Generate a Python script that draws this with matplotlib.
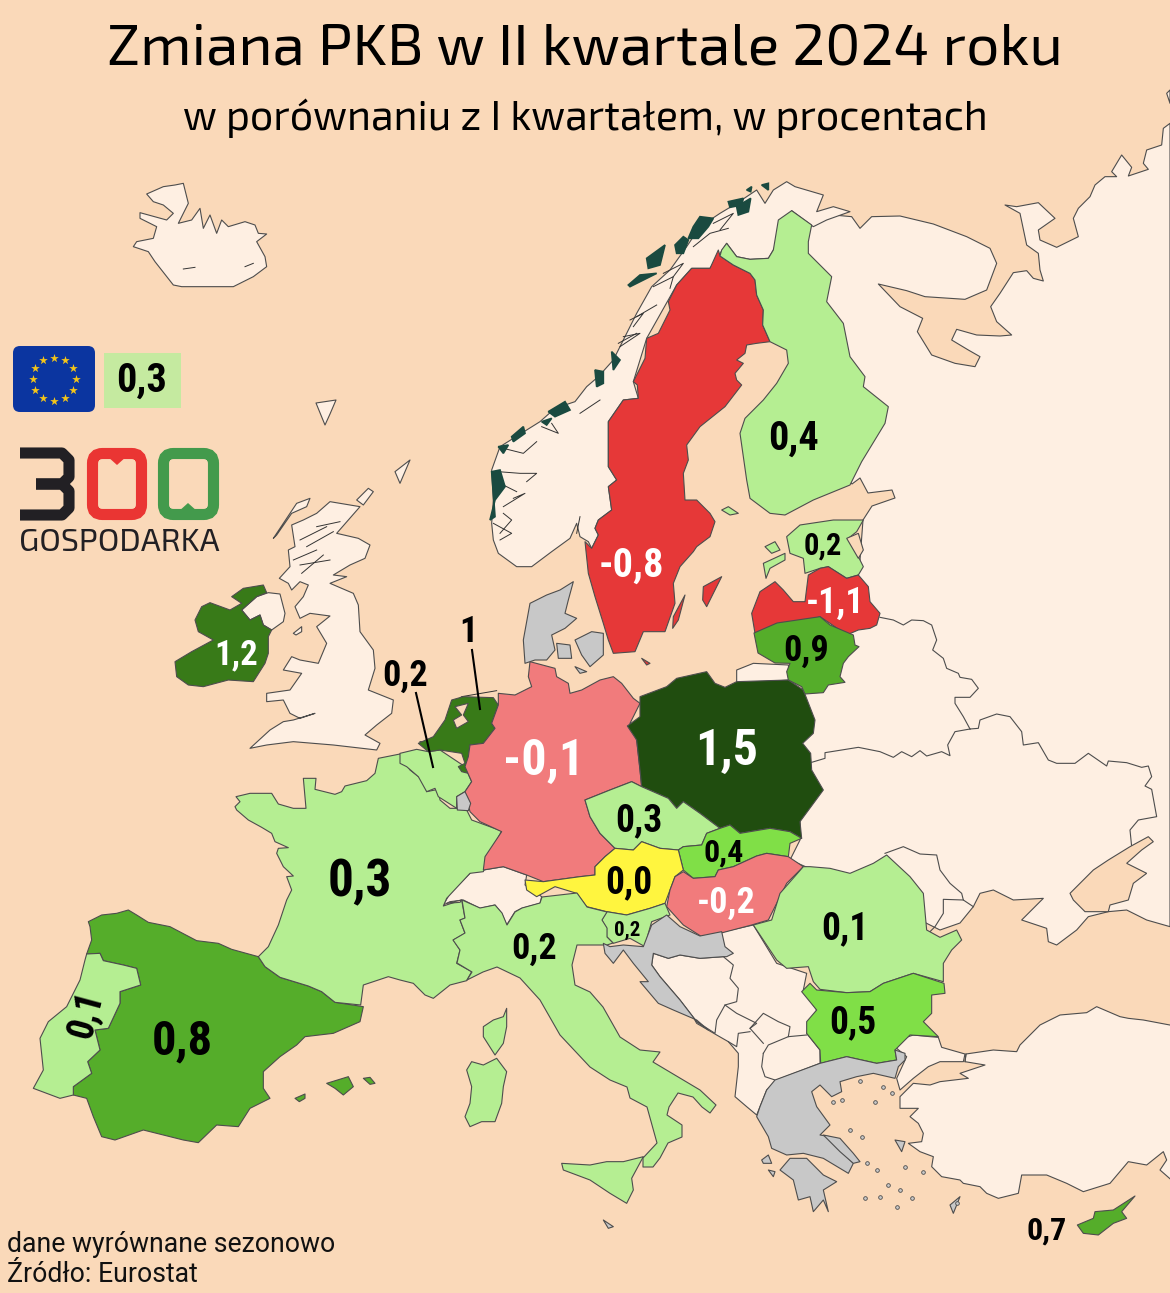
import numpy as np
import matplotlib
matplotlib.use("Agg")
import matplotlib.pyplot as plt
from matplotlib.patches import Polygon, FancyBboxPatch, Rectangle

# gdp change, q2 2024 vs q1 (eurostat)
countries = ["PL", "IE", "NL", "LT", "ES", "CY", "BG", "SK", "FI", "EE", "CZ", "FR", "EU", "BE", "IT", "SI", "PT", "RO", "AT", "DE", "HU", "SE", "LV"]
gdp_change = [1.5, 1.2, 1.0, 0.9, 0.8, 0.7, 0.5, 0.4, 0.4, 0.2, 0.3, 0.3, 0.3, 0.2, 0.2, 0.2, 0.1, 0.1, 0.0, -0.1, -0.2, -0.8, -1.1]
no_data = ["DK", "HR", "GR", "LU", "MT"]

SEA = "#FAD9B9"
LAND = "#FEEFE2"
GREY = "#C8C8C8"
EDGE = "#4d4d4d"
NARROW = ["Roboto Condensed", "Roboto"]
HEAD = ["Exo 2", "DejaVu Sans"]


def shade(v):
    if v < -0.5:
        return "#E63838"
    if v < 0:
        return "#F17B7C"
    if v == 0:
        return "#FFF53F"
    if v <= 0.3:
        return "#B5EE92"
    if v <= 0.5:
        return "#80DF47"
    if v < 1:
        return "#55AD2A"
    if v < 1.5:
        return "#387A18"
    return "#204D0F"


def z(x0, y0, pts):
    return np.array(pts, dtype=float) / 3 + [x0, y0]


shapes = {}
shapes["ES"] = [z(20, 750, [(205,515),(245,495),(290,490),(325,480),(350,495),(385,517),(450,530),(530,572),(595,580),(635,598),(715,620),(735,650),(780,682),(865,708),(905,725),(945,757),(1030,770),(1020,815),(940,850),(855,860),(830,885),(780,920),(730,965),(730,1015),(750,1045),(690,1075),(655,1130),(590,1125),(535,1178),(490,1170),(370,1140),(285,1170),(245,1160),(220,1100),(200,1045),(160,1035),(160,1010),(215,970),(203,935),(240,900),(225,840),(265,835),(300,760),(300,725),(362,705),(350,655),(310,645),(250,632),(240,610),(200,612),(215,570),(210,530)]),
                z(20, 750, [(920,1000),(985,980),(1000,1010),(970,1035),(945,1015)]),
                z(20, 750, [(1030,985),(1050,982),(1065,1000),(1050,1003)]),
                z(20, 750, [(825,1045),(855,1032),(855,1045),(838,1055)])]
shapes["PT"] = [z(20, 750, [(200,612),(240,610),(250,632),(310,645),(350,655),(362,705),(300,725),(300,760),(265,835),(225,840),(240,900),(203,935),(215,970),(160,1010),(160,1035),(120,1045),(40,1015),(70,960),(60,865),(85,815),(140,770),(180,690),(195,630)])]
shapes["FR"] = [z(20, 750, [(715,620),(745,590),(775,525),(800,450),(815,420),(800,380),(820,378),(790,350),(770,310),(775,295),(805,293),(765,275),(755,250),(725,232),(685,210),(650,180),(645,170),(660,155),(648,140),(690,130),(755,130),(775,162),(820,175),(858,175),(850,85),(888,85),(885,118),(945,133),(965,125),(975,108),(1040,92),(1065,70),(1075,25),(1140,12),(1170,60),(1215,95),(1220,125),(1255,118),(1260,150),(1290,175),(1310,175),(1340,180),(1355,210),(1445,243),(1420,290),(1390,365),(1350,370),(1280,445),(1270,468),(1325,450),(1335,505),(1320,510),(1335,550),(1300,570),(1320,600),(1310,640),(1355,665),(1340,692),(1290,705),(1240,745),(1215,735),(1180,700),(1140,690),(1105,680),(1060,695),(1030,705),(1022,765),(945,757),(905,725),(865,708),(780,682),(735,650)]),
                z(20, 750, [(1390,830),(1420,810),(1450,800),(1460,775),(1460,830),(1450,880),(1425,915),(1390,860)])]
shapes["BE"] = [z(400, 600, [(0,460),(50,448),(85,455),(120,450),(165,480),(195,500),(215,545),(195,575),(170,590),(170,625),(115,590),(105,565),(80,575),(55,530),(20,500),(0,490)])]
shapes["NL"] = [z(400, 600, [(55,430),(100,410),(135,360),(155,300),(190,290),(280,293),(295,315),(275,370),(285,385),(250,430),(210,435),(205,470),(205,520),(185,515),(175,500),(195,490),(185,460),(120,450),(85,455)])]
shapes["DE"] = [z(400, 600, [(390,185),(465,205),(470,230),(505,250),(510,280),(545,270),(600,240),(640,230),(665,250),(700,295),(720,310),(690,370),(710,420),(720,510),(725,560),(695,545),(630,570),(555,600),(570,650),(600,700),(645,745),(615,770),(585,800),(585,825),(540,830),(430,845),(380,825),(310,800),(250,810),(255,770),(305,695),(240,665),(210,635),(195,575),(215,545),(195,500),(205,470),(210,435),(250,430),(285,385),(275,370),(295,315),(295,280),(345,285),(395,260),(385,230)])]
shapes["LU"] = [z(400, 600, [(170,590),(195,575),(212,610),(205,632),(172,630)])]
shapes["PL"] = [z(400, 600, [(720,290),(800,260),(830,235),(920,215),(945,250),(975,262),(1010,245),(1165,240),(1210,270),(1245,360),(1240,400),(1208,430),(1232,460),(1235,510),(1270,570),(1200,665),(1205,715),(1170,695),(1110,685),(1020,700),(990,675),(960,685),(900,640),(850,605),(830,625),(805,595),(725,560),(720,510),(710,420),(682,378),(720,350)])]
shapes["CZ"] = [z(400, 600, [(555,600),(630,570),(695,545),(725,560),(805,595),(830,625),(850,605),(900,640),(960,685),(920,700),(905,735),(850,740),(835,750),(780,745),(725,725),(700,750),(645,745),(600,700),(570,650)])]
shapes["SK"] = [z(400, 600, [(835,750),(850,740),(905,735),(920,700),(960,685),(990,675),(1020,700),(1110,685),(1170,695),(1205,715),(1170,730),(1165,770),(1100,760),(1070,768),(1000,800),(955,810),(945,830),(880,835),(850,810)])]
shapes["AT"] = [z(400, 600, [(375,840),(430,845),(540,830),(585,825),(585,800),(615,770),(645,745),(700,750),(725,725),(780,745),(835,750),(850,810),(825,830),(810,870),(795,910),(750,925),(680,945),(620,935),(560,920),(530,880),(465,860),(410,890),(380,870)])]
shapes["HU"] = [z(400, 600, [(850,815),(880,835),(945,830),(955,810),(1000,800),(1070,768),(1100,760),(1165,770),(1210,800),(1160,850),(1135,900),(1105,960),(1055,975),(960,1000),(905,1010),(850,975),(800,920),(810,870),(825,830)])]
shapes["SI"] = [z(400, 600, [(605,960),(620,935),(680,945),(750,925),(795,910),(810,945),(755,965),(745,1000),(735,1040),(690,1015),(640,1030),(620,1010),(620,985)])]
shapes["IT"] = [np.array([(462,900),(480,908),(495,905),(502,913),(507,925),(515,912),(522,908),(540,903),(542,897),(577,893),(587,907),(607,912),(602,920),(607,928),(607,937),(613,943),(607,945),(577,945),(572,965),(575,985),(590,992),(603,1007),(620,1037),(640,1050),(660,1052),(653,1062),(700,1090),(716,1105),(710,1113),(702,1107),(693,1097),(678,1093),(669,1107),(667,1115),(682,1125),(682,1137),(668,1143),(660,1158),(653,1167),(643,1167),(643,1158),(657,1143),(647,1107),(630,1098),(627,1087),(610,1080),(590,1067),(560,1035),(540,1000),(520,978),(497,967),(483,972),(467,980),(472,972),(457,963),(460,950),(453,940),(465,933),(460,920),(465,918)], dtype=float),
                z(590, 850, [(-85,940),(0,945),(50,935),(100,935),(160,920),(125,985),(130,1020),(110,1060),(60,1030),(0,990),(-80,960)]),
                z(20, 750, [(1340,960),(1355,935),(1390,945),(1430,925),(1460,965),(1450,1010),(1445,1060),(1425,1115),(1385,1115),(1350,1130),(1335,1100),(1350,1060),(1355,1010)])]
shapes["HR"] = [z(590, 850, [(40,280),(60,290),(100,285),(160,290),(185,225),(230,195),(270,230),(330,258),(395,245),(405,290),(430,310),(410,320),(400,320),(330,325),(270,315),(235,325),(190,310),(185,345),(210,380),(270,450),(320,515),(355,540),(320,510),(250,480),(205,460),(150,395),(175,395),(130,340),(100,300),(70,340),(45,310)])]
shapes["RO"] = [z(590, 850, [(490,225),(545,210),(570,130),(640,50),(660,50),(720,55),(780,70),(850,40),(890,15),(960,80),(1000,130),(1010,240),(1050,262),(1100,240),(1115,270),(1085,300),(1060,340),(1060,395),(970,370),(880,400),(840,425),(770,428),(690,418),(670,395),(655,350),(590,355),(560,330),(520,270)])]
shapes["BG"] = [z(590, 850, [(660,400),(680,420),(770,428),(840,425),(880,400),(970,370),(1062,400),(1065,430),(1025,435),(1025,490),(1000,515),(1045,560),(960,555),(915,600),(920,630),(860,640),(770,620),(692,640),(690,600),(650,550),(650,515),(680,480),(635,425)])]
shapes["GR"] = [z(590, 850, [(555,690),(690,640),(770,620),(860,640),(920,630),(915,600),(945,610),(945,630),(925,650),(915,685),(850,670),(800,680),(750,695),(755,725),(725,740),(690,705),(665,725),(680,770),(720,825),(690,855),(720,860),(775,925),(790,940),(775,970),(700,925),(640,910),(590,915),(545,895),(535,860),(500,800),(510,770),(530,720)]),
                z(590, 850, [(570,960),(600,925),(650,925),(700,975),(740,995),(700,1020),(715,1085),(700,1050),(670,1085),(660,1040),(625,1050),(610,990)]),
                z(590, 850, [(700,855),(750,865),(790,910),(810,935),(790,940),(750,905)]),
                z(880, 960, [(240,710),(220,760),(210,735)]),
                z(880, 960, [(45,540),(75,545),(65,575)]),
                z(590, 850, [(515,930),(535,915),(545,940),(520,940)]),
                z(590, 850, [(535,960),(555,965),(550,980)])]
shapes["MT"] = [z(590, 850, [(40,1110),(70,1130),(55,1135)])]
shapes["DK"] = [z(480, 170, [(150,1300),(200,1275),(240,1260),(280,1235),(265,1290),(255,1330),(290,1345),(255,1375),(215,1395),(225,1440),(200,1470),(165,1470),(135,1480),(130,1410)]),
                z(400, 600, [(525,120),(575,95),(610,100),(610,165),(570,200),(545,165)]),
                z(400, 600, [(470,130),(510,135),(515,175),(475,175)]),
                z(400, 600, [(525,200),(560,215),(540,220)])]
shapes["SE"] = [z(480, 170, [(715,240),(720,258),(760,285),(810,310),(825,330),(830,375),(850,420),(848,465),(870,515),(830,520),(800,525),(795,550),(770,570),(790,580),(765,610),(770,630),(785,645),(735,710),(660,770),(620,825),(625,870),(610,910),(615,990),(650,990),(690,1030),(705,1055),(690,1100),(650,1130),(640,1145),(600,1190),(580,1240),(585,1300),(555,1385),(490,1385),(465,1445),(400,1450),(385,1410),(370,1360),(345,1280),(325,1210),(315,1115),(335,1135),(355,1095),(345,1075),(355,1050),(395,1020),(385,950),(410,930),(385,890),(385,755),(430,690),(475,685),(472,645),(460,635),(495,565),(500,505),(535,490),(570,420),(565,395),(590,345),(635,295),(690,295)]),
                z(480, 170, [(670,1250),(725,1220),(700,1270),(680,1310),(668,1290)]),
                z(480, 170, [(615,1275),(595,1350),(578,1375),(580,1340)]),
                z(480, 170, [(485,1465),(510,1480),(500,1485)])]
shapes["FI"] = [z(480, 170, [(725,240),(740,220),(770,260),(810,268),(865,265),(880,240),(895,150),(935,122),(995,165),(985,215),(985,250),(1055,320),(1040,395),(1090,460),(1110,560),(1155,620),(1150,650),(1225,710),(1215,760),(1145,875),(1110,945),(1000,990),(915,1035),(870,1030),(810,985),(800,930),(780,790),(795,745),(850,690),(890,640),(925,580),(920,540),(870,515),(848,465),(850,420),(830,375),(825,330),(810,310),(760,285),(720,258)]),
                z(480, 170, [(725,1020),(745,1010),(775,1030),(750,1035)])]
shapes["EE"] = [z(480, 170, [(920,1100),(960,1065),(1060,1050),(1150,1050),(1130,1085),(1105,1105),(1135,1160),(1150,1190),(1135,1215),(1100,1225),(1045,1190),(1020,1195),(975,1210),(970,1165),(930,1150)]),
                z(480, 170, [(850,1180),(915,1150),(915,1170),(870,1195),(858,1225)]),
                z(480, 170, [(855,1130),(885,1115),(900,1140),(875,1150)])]
shapes["LV"] = [z(480, 170, [(815,1330),(840,1265),(885,1235),(910,1260),(940,1295),(975,1295),(985,1215),(1020,1195),(1045,1190),(1100,1225),(1135,1215),(1165,1250),(1170,1295),(1200,1330),(1190,1365),(1170,1375),(1135,1380),(1100,1395),(1050,1360),(1020,1340),(980,1355),(900,1360),(825,1390)])]
shapes["LT"] = [z(780, 560, [(-78,219),(-9,189),(120,170),(150,195),(220,225),(225,255),(237,260),(205,290),(190,310),(180,350),(195,367),(145,375),(130,398),(75,402),(65,380),(25,360),(20,335),(30,310),(-15,309),(-66,279)])]
shapes["IE"] = [z(160, 450, [(45,635),(95,605),(160,570),(115,545),(105,510),(125,470),(150,458),(210,480),(245,460),(215,440),(250,415),(310,405),(320,428),(290,440),(245,480),(270,510),(300,495),(310,525),(335,540),(325,560),(325,610),(315,640),(280,695),(205,690),(130,710),(85,705),(50,680)])]
shapes["CY"] = [z(880, 960, [(592,795),(640,775),(645,755),(700,750),(765,708),(725,755),(740,775),(700,790),(655,825),(610,820)])]

# land outside the coloured countries
other_land = [
    np.vstack([
        z(800, 80, [(1110,130),(1090,145),(1085,195),(1040,210),(1030,250),(1045,268),(985,288),(995,262),(965,225),(935,275),(950,290),(915,290),(885,315),(870,350),(835,385),(820,415),(835,470),(770,502),(720,480),(715,450),(765,415),(715,368),(650,380),(615,375),(660,400),(680,495),(715,520),(720,570),(730,603),(700,595),(680,572),(640,578),(600,640),(572,680),(590,725),(635,765),(600,768),(530,765),(470,748),(455,780),(505,810),(540,830),(525,860),(465,850),(395,825),(352,755),(368,715),(300,680),(235,612),(320,632),(375,650),(495,658),(560,630),(590,550),(570,505),(500,470),(400,432),(300,408),(215,410),(180,445),(155,410),(100,405),(50,395),(0,385)]),
        np.array([(810,300),(840,470),(852,484),(860,478),(868,493),(892,490),(895,498),(872,506),(863,520),(860,560),(855,600),(800,700),(800,840),(790,860),(860,890),(940,930),(960,923)], dtype=float),
        z(780, 560, [(580,1040),(600,1000),(640,990),(700,1020),(790,1015),(725,1080),(800,1105),(805,1145),(830,1155),(890,1110),(925,1070),(985,1055),(1040,1050),(1100,1080),(1170,1100)]),
    ]),
    z(800, 80, [(1100,40),(1110,30),(1110,70)]),
    # turkey, asia and europe
    z(880, 960, [(880,197),(790,180),(745,175),(720,170),(650,140),(620,158),(540,165),(480,195),(420,255),(410,275),(340,270),(258,282),(255,305),(315,315),(240,340),(265,355),(180,365),(150,375),(100,370),(60,410),(60,445),(115,445),(90,470),(115,490),(130,520),(125,545),(85,550),(120,575),(160,590),(155,620),(185,650),(240,660),(250,670),(300,680),(320,700),(355,715),(415,700),(425,645),(500,645),(560,670),(610,695),(690,670),(745,605),(800,615),(850,575),(860,600),(840,630),(880,665)]),
    z(880, 960, [(50,355),(80,290),(50,265),(70,235),(100,225),(150,230),(175,232),(185,262),(255,282),(250,305),(180,305),(145,320),(100,355),(60,390)]),
    # balkans
    z(590, 850, [(320,520),(380,555),(415,575),(445,610),(445,650),(435,740),(470,770),(500,795),(530,720),(560,690),(690,640),(690,600),(650,550),(680,480),(640,420),(650,370),(560,340),(490,225),(400,245),(200,300)]),
    # norway
    z(480, 170, [(325,1115),(300,1100),(290,1060),(270,1105),(215,1145),(155,1190),(110,1190),(55,1150),(40,1110),(35,1060),(40,990),(35,900),(60,830),(100,805),(180,755),(225,715),(285,695),(320,650),(355,620),(400,570),(430,510),(470,430),(515,350),(570,300),(620,230),(660,170),(720,130),(770,100),(830,60),(855,100),(880,60),(920,35),(945,50),(1030,75),(1010,125),(1060,110),(1110,125),(1040,150),(1000,170),(935,122),(880,240),(865,265),(810,268),(770,260),(740,220),(715,258),(690,295),(635,295),(590,345),(500,505),(460,635),(475,685),(430,690),(385,755),(385,890),(410,930),(385,950),(395,1020),(355,1050),(345,1075),(355,1095),(335,1135)]),
    # britain
    z(160, 450, [(510,155),(600,170),(530,250),(595,265),(630,285),(615,325),(570,345),(520,375),(560,380),(510,400),(580,430),(595,465),(600,545),(640,600),(645,655),(625,720),(700,750),(695,790),(650,825),(615,855),(660,880),(650,900),(520,885),(400,875),(320,885),(270,895),(330,840),(370,815),(400,810),(465,790),(420,805),(390,790),(370,750),(320,755),(320,730),(390,720),(425,670),(370,660),(395,620),(420,630),(475,640),(500,580),(470,530),(510,498),(450,490),(420,505),(405,470),(430,440),(445,405),(420,395),(395,420),(385,400),(358,385),(390,350),(385,300),(405,290),(395,225),(430,210),(470,190)]),
    z(160, 450, [(340,265),(380,205),(410,160),(450,145),(440,170),(395,190),(350,255)]),
    z(160, 450, [(590,150),(625,115),(640,125),(610,165)]),
    z(160, 450, [(705,65),(750,30),(720,100)]),
    z(160, 450, [(400,550),(425,530),(425,545),(408,555)]),
    z(160, 450, [(245,480),(290,440),(325,428),(360,432),(375,490),(370,515),(335,540),(310,525),(300,495),(270,510)]),
    # iceland, faroes, kaliningrad, andorra, switzerland
    z(120, 170, [(80,72),(130,50),(165,45),(190,40),(205,100),(175,160),(215,150),(240,115),(250,175),(270,135),(290,190),(305,150),(325,170),(375,155),(405,165),(415,190),(440,192),(410,215),(435,260),(440,290),(400,320),(340,350),(260,350),(185,350),(160,345),(105,275),(85,245),(40,230),(50,215),(100,205),(110,170),(60,145),(60,128),(140,150),(160,130),(130,105),(100,95)]),
    np.array([(316,403),(336,400),(330,414),(325,425)], dtype=float),
    z(400, 600, [(1010,210),(1060,190),(1165,195),(1170,240),(1010,250)]),
    z(20, 750, [(905,735),(930,730),(930,745),(910,745)]),
    z(400, 600, [(130,915),(150,880),(215,815),(250,810),(310,800),(380,825),(375,855),(425,890),(420,910),(365,925),(345,935),(320,975),(305,940),(285,915),(240,925),(190,900),(150,905)]),
    # bosnia
    z(590, 850, [(190,310),(235,325),(270,315),(330,325),(400,320),(430,345),(420,385),(445,415),(440,455),(405,465),(380,510),(375,550),(320,515),(270,450),(210,380),(185,345)]),
]

# seas and lakes that sit on top of the land
water = [
    z(780, 560, [(870,1000),(940,930),(985,900),(1050,860),(1105,830),(1120,845),(1085,870),(1040,910),(1100,940),(1060,970),(1045,1020),(990,1035),(985,1055),(915,1055),(880,1020)]),
    z(480, 170, [(1100,1105),(1135,1090),(1150,1140),(1135,1165)]),
    z(400, 600, [(165,320),(205,310),(190,345),(205,365),(170,385),(160,360),(185,345)]),
    z(20, 750, [(1280,460),(1325,450),(1320,457)]),
]

# borders without a polygon of their own
border_lines = [
    z(780, 560, [(300,172),(340,180),(370,195),(395,180),(430,182),(455,195),(470,240),(458,270),(490,295),(500,325),(535,340),(540,352),(575,358),(595,385),(570,412),(525,412),(525,430),(550,470),(570,507)]),
    z(780, 560, [(95,607),(135,595),(135,578),(235,562),(300,575),(340,592),(365,575),(395,590),(420,572),(440,588),(485,575),(510,587),(503,555),(525,515),(570,507)]),
    z(780, 560, [(570,507),(595,505),(600,480),(650,462),(690,470),(725,515),(730,555),(775,548),(805,600),(830,610),(885,610),(925,580),(980,618),(985,603),(1040,608),(1085,622),(1105,618),(1115,650),(1095,678),(1115,688),(1130,770),(1075,780),(1050,810),(1055,860)]),
    z(780, 560, [(315,880),(370,860),(420,882),(470,885),(480,930),(510,970),(545,1000),(550,1020),(580,1040)]),
    z(780, 560, [(550,1020),(490,1018),(490,1060),(465,1100),(445,1120)]),
    z(590, 850, [(405,465),(440,490),(500,520),(480,535),(520,580)]),
    z(590, 850, [(480,535),(520,490),(565,515),(600,530),(595,560),(535,585),(520,610)]),
    z(590, 850, [(595,560),(650,555)]),
    z(590, 850, [(520,610),(515,650),(525,680),(555,690)]),
    z(590, 850, [(415,575),(440,590),(445,550),(480,545)]),
    z(880, 960, [(258,282),(255,305)]),
]

# thin fjord cuts and the frisian islands
dark_lines = [
    z(480, 170, [(60,1090),(95,1050),(70,1030)]), z(480, 170, [(70,1010),(135,970),(100,985)]),
    z(480, 170, [(55,905),(120,910),(170,910),(140,935)]), z(480, 170, [(70,835),(130,850),(170,815)]),
    z(480, 170, [(185,770),(235,790),(215,760)]), z(480, 170, [(415,520),(470,490)]),
    z(480, 170, [(430,500),(480,490),(420,530)]), z(480, 170, [(450,450),(490,430),(460,470)]),
    z(480, 170, [(470,440),(530,405)]), z(480, 170, [(520,350),(580,320),(570,355)]),
    z(480, 170, [(550,310),(610,280),(580,320)]), z(480, 170, [(640,230),(690,190),(745,175)]),
    z(480, 170, [(700,160),(760,130),(720,180)]), z(480, 170, [(60,940),(110,965)]),
    z(480, 170, [(40,1060),(95,1090),(60,1110)]), z(480, 170, [(560,1095),(640,1100),(690,1080)]),
    z(480, 170, [(300,1040),(290,1090)]), z(480, 170, [(300,730),(360,690)]),
    z(400, 600, [(150,320),(185,290),(290,272)]), z(400, 600, [(60,425),(165,432)]),
    z(160, 450, [(420,345),(510,330)]), z(160, 450, [(425,370),(490,315)]),
    z(160, 450, [(440,290),(520,245)]), z(160, 450, [(470,230),(540,215)]),
    z(160, 450, [(400,330),(470,300)]), z(160, 450, [(420,270),(500,230)]),
    z(120, 170, [(190,297),(225,292)]), z(120, 170, [(375,290),(400,280)]),
]

# dark blobs of islands along the norwegian coast
skerries = [
    [(745,95),(790,85),(785,105),(750,112)], [(770,110),(812,85),(805,125),(775,135)], [(800,60),(815,50),(812,65)],
    [(640,170),(660,140),(700,145),(685,170),(655,205),(625,205)], [(585,225),(610,200),(625,210),(610,250),(590,250)],
    [(500,265),(555,225),(540,285),(505,295)], [(445,345),(480,315),(530,310),(500,325),(450,350)],
    [(205,725),(255,695),(270,720),(225,740)], [(185,755),(215,745),(200,765)],
    [(95,800),(130,770),(135,790),(100,815)], [(55,830),(85,825),(70,850)],
    [(35,905),(60,900),(75,950),(45,990),(30,1050),(45,1040)], [(395,545),(420,570),(400,600)],
    [(345,600),(370,605),(370,640),(350,650)], [(845,45),(865,40),(865,60)],
]

# small aegean islands, crop coordinates
islets_x = [810, 878, 905, 855, 730, 755, 830, 860, 895, 930, 945, 1000, 1100, 825, 870, 920, 965, 780, 815]
islets_y = [693, 712, 730, 755, 755, 750, 940, 960, 1005, 1020, 950, 965, 1060, 1045, 1040, 1070, 1045, 840, 860]

labels = ["PL", "IE", "NL", "LT", "ES", "CY", "BG", "SK", "FI", "EE", "CZ", "FR", "EU", "BE", "IT", "SI", "PT", "RO", "AT", "DE", "HU", "SE", "LV"]
label_x = [727, 236, 468, 806, 182, 1047, 853, 724, 794, 823, 639, 360, 142, 405, 534, 627, 86, 845, 629, 544, 726, 631, 835]
label_y = [749, 653, 630, 649, 1039, 1229, 1021, 851, 437, 544, 819, 880, 379, 674, 947, 928, 1013, 927, 881, 759, 901, 564, 601]
label_size = [36, 25, 26, 26, 35, 23, 27, 23, 29, 22, 27, 37, 29, 26, 26, 15, 27, 27, 27, 36, 26, 29, 26]
white_labels = ["PL", "IE", "DE", "HU", "SE", "LV"]


def fmt(v):
    if v == 1:
        return "1"
    return ("%.1f" % v).replace(".", ",")


plt.rcParams["font.family"] = ["Roboto", "DejaVu Sans"]
fig = plt.figure(figsize=(11.7, 12.93), dpi=100, facecolor=SEA)
ax = fig.add_axes([0, 0, 1, 1])
ax.set_xlim(0, 1170)
ax.set_ylim(1293, 0)
ax.axis("off")

for pts in other_land:
    ax.add_patch(Polygon(pts, closed=True, fc=LAND, ec=EDGE, lw=0.8, joinstyle="round", zorder=1))
for pts in border_lines:
    ax.plot(pts[:, 0], pts[:, 1], color=EDGE, lw=0.8, zorder=1.5)
for pts in dark_lines:
    ax.plot(pts[:, 0], pts[:, 1], color="#333333", lw=0.7, zorder=1.6)
for pts in skerries:
    ax.add_patch(Polygon(z(480, 170, pts), closed=True, fc="#1A4A40", ec="#1A4A40", lw=1.2, zorder=1.7))

values = dict(zip(countries, gdp_change))
for name, parts in shapes.items():
    if name in no_data:
        col = GREY
    elif name == "FI":
        col = shade(0.3)  # finland keeps the lighter green on the original
    else:
        col = shade(values[name])
    for pts in parts:
        ax.add_patch(Polygon(pts, closed=True, fc=col, ec=EDGE, lw=0.8, joinstyle="round", zorder=2))

for pts in water:
    ax.add_patch(Polygon(pts, closed=True, fc=SEA, ec=EDGE, lw=0.8, zorder=2.5))

ax.scatter(np.array(islets_x) / 3 + 590, np.array(islets_y) / 3 + 850, s=7, c=GREY, edgecolors=EDGE, linewidths=0.6, zorder=2.6)

# leaders for the two small countries
ax.plot([472, 480], [650, 709], color="black", lw=1.5, zorder=3)
ax.plot([416, 433], [693, 767], color="black", lw=1.5, zorder=3)

# eu flag and value box
ax.add_patch(FancyBboxPatch((17, 350), 74, 58, boxstyle="round,pad=4,rounding_size=7", fc="#0B35A0", ec="none", zorder=2))
ang = np.arange(12) * np.pi / 6
ax.scatter(54 + 21.5 * np.cos(ang), 379 + 21.5 * np.sin(ang), marker="*", s=42, c="#F5C518", linewidths=0, zorder=3)
ax.add_patch(Rectangle((104, 353), 77, 55, fc="#C5EAA0", ec="none", zorder=2))

# logo
ax.plot([20, 62, 69, 69, 62, 36], [453, 453, 460, 477, 484, 484], color="#222024", lw=8, solid_joinstyle="round", solid_capstyle="butt", zorder=3)
ax.plot([20, 62, 69, 69, 62, 36], [515, 515, 508, 491, 484, 484], color="#222024", lw=8, solid_joinstyle="round", solid_capstyle="butt", zorder=3)
ax.add_patch(FancyBboxPatch((92.5, 453.5), 49, 61, boxstyle="round,pad=0,rounding_size=10", fc="none", ec="#EA3533", lw=8, zorder=3))
ax.add_patch(FancyBboxPatch((163.5, 453.5), 50, 61, boxstyle="round,pad=0,rounding_size=10", fc="none", ec="#439A4C", lw=8, zorder=3))
ax.add_patch(Polygon([(107, 456), (127, 456), (117, 465)], closed=True, fc="#EA3533", ec="none", zorder=3))
ax.add_patch(Polygon([(178, 512), (198, 512), (188, 503)], closed=True, fc="#439A4C", ec="none", zorder=3))
ax.text(119.5, 543, "GOSPODARKA", fontsize=23.2, family=HEAD, color="#222024", ha="center", va="center", zorder=3)

# value labels
for name, x, y, size in zip(labels, label_x, label_y, label_size):
    ax.text(x, y + 2, fmt(values[name]), fontsize=size, family=NARROW, weight="bold",
            color="white" if name in white_labels else "black",
            rotation=75 if name == "PT" else 0, ha="center", va="center", zorder=4)

ax.text(585, 50, "Zmiana PKB w II kwartale 2024 roku", fontsize=42.2, family=HEAD, color="black", ha="center", va="center", zorder=5)
ax.text(585, 118, "w porównaniu z I kwartałem, w procentach", fontsize=29.6, family=HEAD, color="black", ha="center", va="center", zorder=5)
ax.text(7, 1244, "dane wyrównane sezonowo", fontsize=19.2, color="#111111", ha="left", va="center", zorder=5)
ax.text(7, 1275, "Źródło: Eurostat", fontsize=19.2, color="#111111", ha="left", va="center", zorder=5)

fig.savefig("out.png", dpi=100, facecolor=SEA)
